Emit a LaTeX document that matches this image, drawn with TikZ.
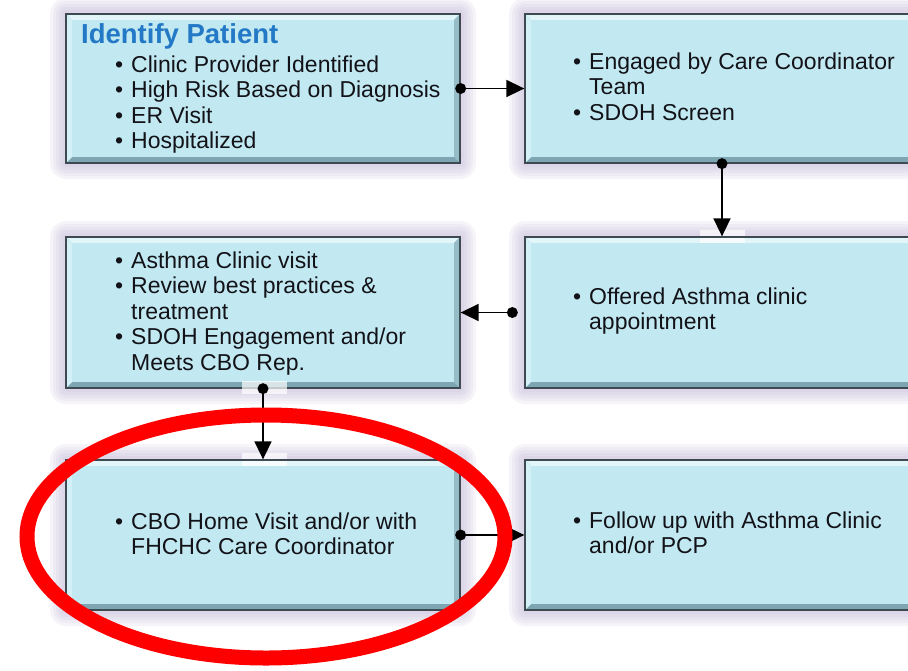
\documentclass[tikz,border=0pt]{standalone}
\usepackage{fontspec}
\setmainfont{Liberation Sans}
\usetikzlibrary{arrows.meta,fit}

\definecolor{boxfill}{HTML}{C2E9F1}
\definecolor{bevellight}{HTML}{E2F6FA}
\definecolor{bevelleft}{HTML}{D2F0F6}
\definecolor{bevelright}{HTML}{96BCC7}
\definecolor{beveldark}{HTML}{7EA6B2}
\definecolor{boxline}{HTML}{3D4A52}
\definecolor{glow}{HTML}{C4B8D8}
\definecolor{titleblue}{HTML}{2379C6}
\definecolor{bodytext}{HTML}{121218}
\definecolor{ring}{HTML}{FF0000}

% bulleted line and its continuation line
\newcommand\bulitem{\makebox[16pt][l]{\textbullet}}
\newcommand\bulcont{\hspace*{16pt}}

% bevelled card with a soft glow: name, x1, y1, x2, y2
\newcommand\stepcard[5]{%
  \foreach \g in {16,13,...,1}
    \fill[glow, opacity=0.15, rounded corners=\g pt] (#2-\g,#3-\g) rectangle (#4+\g,#5+\g);
  \fill[beveldark] (#2,#3) rectangle (#4,#5);
  \fill[bevellight] (#2,#3) -- (#4,#3) -- (#4-6,#3+6) -- (#2+6,#3+6) -- cycle;
  \fill[bevelleft] (#2,#3) -- (#2+6,#3+6) -- (#2+6,#5-6) -- (#2,#5) -- cycle;
  \fill[bevelright] (#4,#3) -- (#4-6,#3+6) -- (#4-6,#5-6) -- (#4,#5) -- cycle;
  \fill[boxfill] (#2+6,#3+6) rectangle (#4-6,#5-6);
  \coordinate (#1-nw) at (#2,#3);
  \coordinate (#1-se) at (#4,#5);
  \node[card, fit=(#1-nw)(#1-se)] (#1) {};
}

% text nodes are placed by the baseline of their last line
\tikzset{
  card/.style={draw=boxline, line width=1.3pt, inner sep=0pt},
  txt/.style={align=left, inner sep=0pt, anchor=base west,
    font=\fontsize{23}{25.5}\selectfont, text=bodytext},
  title/.style={inner sep=0pt, anchor=base west,
    font=\fontsize{27.5}{30}\selectfont\bfseries, text=titleblue},
  conn/.style={line width=1.6pt, draw=black, -{Triangle[length=18pt,width=17pt]}},
  joinpatch/.style={fill=white, opacity=0.7},
  ringline/.style={draw=ring, line width=15pt}
}

\begin{document}
\begin{tikzpicture}[x=1pt,y=-1pt]
  \useasboundingbox (0,0) rectangle (908,670);
  \clip (0,0) rectangle (908,670);
  \fill[white] (0,0) rectangle (908,670);

  % the six steps
  \stepcard{identify}{66}{14}{460}{163}
  \stepcard{engage}{525}{14}{919}{163}
  \stepcard{clinic}{66}{237}{460}{388}
  \stepcard{offer}{525}{237}{919}{388}
  \stepcard{home}{66}{460}{460}{610}
  \stepcard{follow}{525}{460}{919}{610}

  % pale patches where the vertical connectors meet the cards
  \fill[joinpatch] (242,381) rectangle (287,394);
  \fill[joinpatch] (242,453) rectangle (287,466);
  \fill[joinpatch] (700,230) rectangle (745,243);
  \draw[boxline, line width=1.3pt] (242,460) -- (287,460) (700,237) -- (745,237);

  % texts
  \node[title] (identify-title) at (81,43) {Identify Patient};
  \node[txt] (identify-text) at (115,148.5) {\bulitem Clinic Provider Identified\\
    \bulitem High Risk Based on Diagnosis\\
    \bulitem ER Visit\\
    \bulitem Hospitalized};
  \node[txt] (engage-text) at (573,120) {\bulitem Engaged by Care Coordinator\\
    \bulcont Team\\
    \bulitem SDOH Screen};
  \node[txt] (clinic-text) at (115,370) {\bulitem Asthma Clinic visit\\
    \bulitem Review best practices \&\\
    \bulcont treatment\\
    \bulitem SDOH Engagement and/or\\
    \bulcont Meets CBO Rep.};
  \node[txt] (offer-text) at (573,329.5) {\bulitem Offered Asthma clinic\\
    \bulcont appointment};
  \node[txt] (home-text) at (115,554.5) {\bulitem CBO Home Visit and/or with\\
    \bulcont FHCHC Care Coordinator};
  \node[txt] (follow-text) at (573,553.5) {\bulitem Follow up with Asthma Clinic\\
    \bulcont and/or PCP};

  % connectors, each starting from a dot
  \coordinate (offer-out) at ([xshift=-12pt]offer.west);
  \draw[conn] (identify.east) -- (engage.west);
  \draw[conn] (engage.south) -- (offer.north);
  \draw[conn] (offer-out) -- (clinic.east);
  \draw[conn] (clinic.south) -- (home.north);
  \draw[conn] (home.east) -- (follow.west);
  \foreach \p in {identify.east, engage.south, offer-out, clinic.south, home.east}
    \fill[black] (\p) circle (5.5pt);

  % red ring around the home-visit step
  \draw[ringline] (266,536.5) ellipse [x radius=239pt, y radius=121.5pt];
\end{tikzpicture}
\end{document}
